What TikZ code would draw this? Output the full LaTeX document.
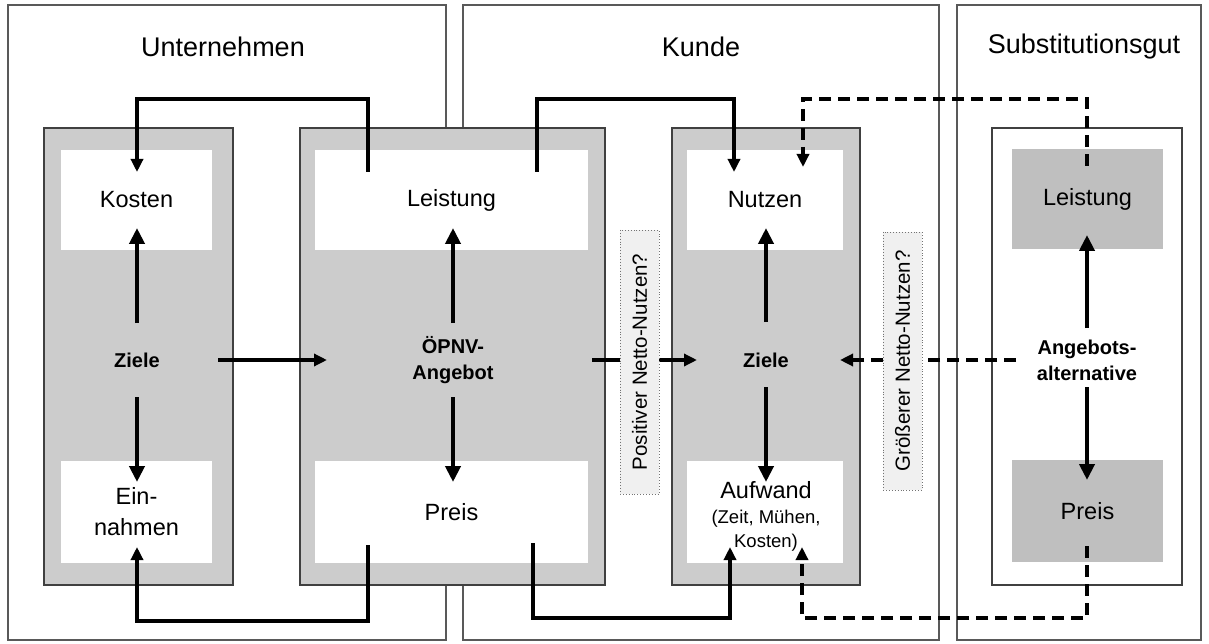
\documentclass[tikz,border=0pt]{standalone}
\usepackage{fontspec}
\setmainfont{Liberation Sans}
\usetikzlibrary{arrows.meta}
\definecolor{zonegray}{gray}{0.80}
\definecolor{altgray}{gray}{0.75}
\definecolor{querygray}{gray}{0.94}
\begin{document}
\begin{tikzpicture}[x=1pt,y=-1pt,
  every node/.style={inner sep=0pt,outer sep=0pt},
  panel/.style={draw=black!65,line width=1.3pt},
  zone/.style={draw=black!75,line width=1.6pt,fill=zonegray},
  card/.style={fill=white},
  altcard/.style={fill=altgray},
  innerframe/.style={draw=black!75,line width=1.6pt,fill=white},
  title/.style={font=\fontsize{27}{32}\selectfont},
  lbl/.style={font=\fontsize{23.5}{31}\selectfont,align=center},
  hub/.style={font=\fontsize{20}{26}\selectfont\bfseries,align=center},
  query/.style={draw=black!55,dotted,line width=0.9pt,fill=querygray,rotate=90,
    font=\fontsize{20.5}{24}\selectfont,minimum height=39pt},
  flow/.style={line width=4.5pt,-{Triangle[length=16pt,width=15pt]}},
  link/.style={line width=3.5pt,line join=miter,-{Triangle[length=13pt,width=12pt]}},
  dlink/.style={link,dash pattern=on 12pt off 7pt},
]
% canvas
\fill[white] (0,0) rectangle (1209,644);

% three panels
\node[panel,minimum width=438,minimum height=635] (pU) at (227,322.5) {};
\node[panel,minimum width=476,minimum height=635] (pK) at (701,322.5) {};
\node[panel,minimum width=244,minimum height=635] (pS) at (1079,322.5) {};
\node[title] (tU) at (223,47) {Unternehmen};
\node[title] (tK) at (701,47) {Kunde};
\node[title] (tS) at (1084,47) {Substitutionsgut};

% grey zones and the frame of the alternative
\node[zone,minimum width=189,minimum height=457] (zA) at (138.5,356.5) {};
\node[zone,minimum width=305,minimum height=457] (zB) at (452.5,356.5) {};
\node[zone,minimum width=188,minimum height=457] (zC) at (766,356.5) {};
\node[innerframe,minimum width=190,minimum height=457] (zD) at (1087,356.5) {};

% cards
\node[card,lbl,minimum width=151,minimum height=100] (kosten) at (136.5,200) {Kosten};
\node[card,lbl,minimum width=151,minimum height=102] (einn) at (136.5,512) {Ein-\\nahmen};
\node[card,lbl,minimum width=273,minimum height=100] (leistB) at (451.5,200) {Leistung};
\node[card,lbl,minimum width=273,minimum height=102] (preisB) at (451.5,512) {Preis};
\node[card,lbl,minimum width=156,minimum height=100] (nutzen) at (765,200) {Nutzen};
\node[card,minimum width=156,minimum height=102] (aufw) at (765,512) {};
\node[lbl,font=\fontsize{23.5}{24}\selectfont] (aufwT) at (766,490) {Aufwand};
\node[align=center,font=\fontsize{18.5}{24}\selectfont] (aufwS) at (766,531) {(Zeit, Mühen,\\Kosten)};
\node[altcard,lbl,minimum width=151,minimum height=100] (leistS) at (1087.5,199) {Leistung};
\node[altcard,lbl,minimum width=151,minimum height=102] (preisS) at (1087.5,511) {Preis};

% centre labels
\node[hub] (zielA) at (137,360) {Ziele};
\node[hub] (opnv) at (453,360) {ÖPNV-\\Angebot};
\node[hub] (zielC) at (766,360) {Ziele};
\node[hub] (alt) at (1087,360) {Angebots-\\alternative};

% end points of the arrows
\coordinate (aUp0) at (137,323);   \coordinate (aUp1) at (137,228);
\coordinate (aDn0) at (137,397);   \coordinate (aDn1) at (137,482);
\coordinate (bUp0) at (453,323);   \coordinate (bUp1) at (453,228);
\coordinate (bDn0) at (453,397);   \coordinate (bDn1) at (453,482);
\coordinate (cUp0) at (766,322);   \coordinate (cUp1) at (766,228);
\coordinate (cDn0) at (766,387);   \coordinate (cDn1) at (766,482);
\coordinate (dUp0) at (1087,328);  \coordinate (dUp1) at (1087,235);
\coordinate (dDn0) at (1087,387);  \coordinate (dDn1) at (1087,480);
\coordinate (zA0) at (218,360);    \coordinate (zB1) at (327,360);
\coordinate (zB0) at (592,360);    \coordinate (zC1) at (697,360);
\coordinate (zD0) at (1016,360);   \coordinate (zC2) at (840,360);
\coordinate (lbL) at (368,172);    \coordinate (kostIn) at (137,172);
\coordinate (pbL) at (368,545);    \coordinate (einIn) at (137,547);
\coordinate (lbR) at (537,172);    \coordinate (nutIn) at (734,172);
\coordinate (pbR) at (533,543);    \coordinate (aufIn) at (730,547);
\coordinate (lsS) at (1087,166);   \coordinate (nutIn2) at (803,167);
\coordinate (psS) at (1087,546);   \coordinate (aufIn2) at (802,547);

% arrows inside the zones
\draw[flow] (aUp0) -- (aUp1);
\draw[flow] (aDn0) -- (aDn1);
\draw[flow] (bUp0) -- (bUp1);
\draw[flow] (bDn0) -- (bDn1);
\draw[flow] (cUp0) -- (cUp1);
\draw[flow] (cDn0) -- (cDn1);
\draw[flow] (dUp0) -- (dUp1);
\draw[flow] (dDn0) -- (dDn1);

% horizontal links
\draw[link] (zA0) -- (zB1);
\draw[link] (zB0) -- (zC1);
\draw[dlink] (zD0) -- (zC2);

% routed links
\draw[link] (lbL) -- ++(0,-73) -| (kostIn);
\draw[link] (pbL) -- ++(0,76) -| (einIn);
\draw[link] (lbR) -- ++(0,-73) -| (nutIn);
\draw[link] (pbR) -- ++(0,75) -| (aufIn);
\draw[dlink] (lsS) -- ++(0,-67) -| (nutIn2);
\draw[dlink] (psS) -- ++(0,72) -| (aufIn2);

% questions on the links
\node[query,minimum width=264] (qPos) at (639.5,362) {Positiver Netto-Nutzen?};
\node[query,minimum width=258] (qGr) at (902.5,361) {Größerer Netto-Nutzen?};
\end{tikzpicture}
\end{document}
